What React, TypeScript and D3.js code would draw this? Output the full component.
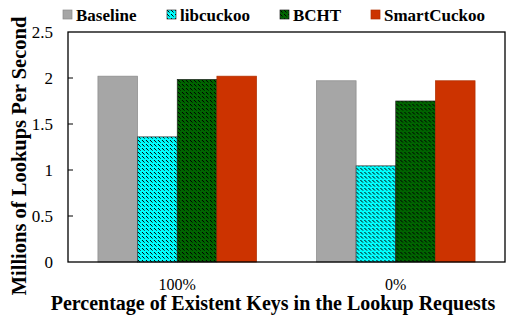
import React from "react";
import * as d3 from "d3";

const groups = ["100%", "0%"];
const series = ["Baseline", "libcuckoo", "BCHT", "SmartCuckoo"];
const values = [
    [2.02, 1.36, 1.985, 2.02],
    [1.97, 1.045, 1.75, 1.97],
];
const yTicks = [0, 0.5, 1, 1.5, 2, 2.5];
const legendX = [63, 167, 280, 371];

const fills = ["#a6a6a6", "url(#hatchCyan)", "url(#hatchGreen)", "#cc3300"];
const strokes = ["#8a8a8a", "#333", "#222", "#b03000"];

const FONT = "Times, 'Times New Roman', 'Liberation Serif', 'DejaVu Serif', serif";

const App = () => {
    const width = 507, height = 315;
    const left = 68, right = 505, top = 32, bottom = 262;

    const x0 = d3.scaleBand().domain(groups).range([left, right]).paddingInner(0.274).paddingOuter(0.137);
    const x1 = d3.scaleBand().domain(series).range([0, x0.bandwidth()]);
    const y = d3.scaleLinear().domain([0, 2.5]).range([bottom, top]);

    return (
        <svg width={width} height={height} style={{ position: "absolute", left: 0, top: 0 }}>
            <defs>
                <pattern id="hatchCyan" width="4" height="4" patternUnits="userSpaceOnUse">
                    <rect width="4" height="4" fill="#00ffff" />
                    <rect x="0" y="0" width="1" height="1" fill="#000" />
                    <rect x="1" y="1" width="1" height="1" fill="#000" />
                    <rect x="2" y="2" width="1" height="1" fill="#1a6060" />
                </pattern>
                <pattern id="hatchGreen" width="4" height="4" patternUnits="userSpaceOnUse">
                    <rect width="4" height="4" fill="#006400" />
                    <rect x="0" y="0" width="1" height="1" fill="#000" />
                    <rect x="1" y="1" width="1" height="1" fill="#000" />
                    <rect x="2" y="2" width="1" height="1" fill="#003300" />
                </pattern>
            </defs>

            {/* bars */}
            {groups.map((g, gi) => (
                <g key={g} transform={`translate(${x0(g)},0)`}>
                    {series.map((s, si) => (
                        <rect key={s}
                            x={x1(s)} y={y(values[gi][si])}
                            width={x1.bandwidth()} height={bottom - y(values[gi][si])}
                            fill={fills[si]} stroke={strokes[si]} strokeWidth={0.7} />
                    ))}
                </g>
            ))}

            {/* frame */}
            <rect x={left} y={top} width={right - left} height={bottom - top} fill="none" stroke="#000" strokeWidth={1.3} />

            {/* y ticks */}
            {yTicks.map(t => (
                <g key={t}>
                    {t > 0 && t < 2.5 && <line x1={left} x2={left + 5} y1={y(t)} y2={y(t)} stroke="#000" strokeWidth={1} />}
                    <text x={53} y={y(t)} dy="0.35em" textAnchor="end" fontSize={17} fontFamily={FONT}>{t}</text>
                </g>
            ))}

            {/* x labels */}
            {groups.map(g => (
                <text key={g} x={x0(g) + x0.bandwidth() / 2} y={290} textAnchor="middle" fontSize={16} fontFamily={FONT}>{g}</text>
            ))}

            <text x={273} y={310} textAnchor="middle" fontSize={20} fontWeight="bold" fontFamily={FONT}>
                Percentage of Existent Keys in the Lookup Requests
            </text>
            <text transform={`translate(26,156) rotate(-90)`} textAnchor="middle" fontSize={20.5} fontWeight="bold" fontFamily={FONT}>
                Millions of Lookups Per Second
            </text>

            {/* legend */}
            {series.map((s, si) => (
                <g key={s} transform={`translate(${legendX[si]},10)`}>
                    <rect x={0} y={0} width={9} height={9} fill={fills[si]} stroke={strokes[si]} strokeWidth={0.7} />
                    <text x={13} y={5} dy="0.35em" fontSize={17} fontWeight="bold" fontFamily={FONT}>{s}</text>
                </g>
            ))}
        </svg>
    );
};

export default App;
